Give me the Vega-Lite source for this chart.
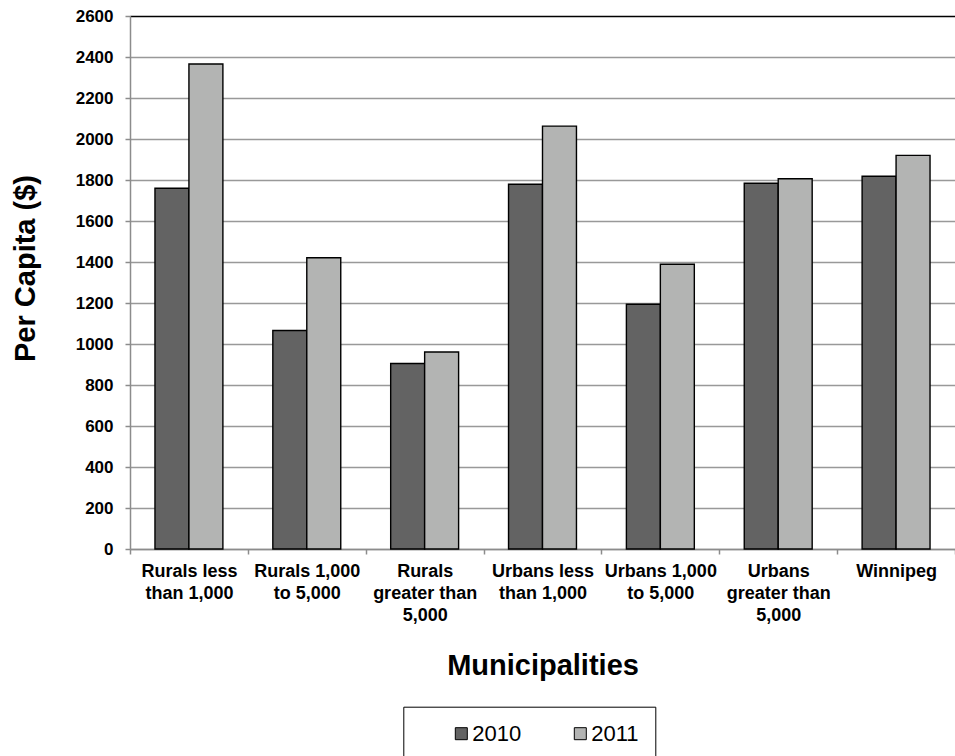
{
  "$schema": "https://vega.github.io/schema/vega-lite/v6.json",
  "autosize": {"type": "none"},
  "width": 825,
  "height": 533,
  "padding": {"left": 130, "top": 16, "right": 0, "bottom": 207},
  "background": "white",
  "config": {
    "view": {"stroke": null},
    "font": "Liberation Sans"
  },
  "data": {
    "values": [
      {"municipality": "Rurals less than 1,000", "year": "2010", "per_capita": 1760},
      {"municipality": "Rurals less than 1,000", "year": "2011", "per_capita": 2366},
      {"municipality": "Rurals 1,000 to 5,000", "year": "2010", "per_capita": 1066},
      {"municipality": "Rurals 1,000 to 5,000", "year": "2011", "per_capita": 1421},
      {"municipality": "Rurals greater than 5,000", "year": "2010", "per_capita": 905},
      {"municipality": "Rurals greater than 5,000", "year": "2011", "per_capita": 961},
      {"municipality": "Urbans less than 1,000", "year": "2010", "per_capita": 1779},
      {"municipality": "Urbans less than 1,000", "year": "2011", "per_capita": 2063},
      {"municipality": "Urbans 1,000 to 5,000", "year": "2010", "per_capita": 1194},
      {"municipality": "Urbans 1,000 to 5,000", "year": "2011", "per_capita": 1389},
      {"municipality": "Urbans greater than 5,000", "year": "2010", "per_capita": 1784},
      {"municipality": "Urbans greater than 5,000", "year": "2011", "per_capita": 1806},
      {"municipality": "Winnipeg", "year": "2010", "per_capita": 1818},
      {"municipality": "Winnipeg", "year": "2011", "per_capita": 1920}
    ]
  },
  "mark": {"type": "bar", "stroke": "black", "strokeWidth": 1.4},
  "encoding": {
    "x": {
      "field": "municipality",
      "type": "nominal",
      "sort": null,
      "scale": {"paddingInner": 0, "paddingOuter": 0},
      "axis": {
        "title": "Municipalities",
        "titleFont": "Liberation Sans",
        "titleFontSize": 29,
        "titleFontWeight": "bold",
        "titleColor": "black",
        "titlePadding": 27,
        "labelAngle": 0,
        "labelFont": "Liberation Sans",
        "labelFontSize": 18,
        "labelFontWeight": "bold",
        "labelColor": "black",
        "labelPadding": 8,
        "labelLineHeight": 22.3,
        "labelBaseline": "top",
        "labelExpr": "datum.label == 'Rurals less than 1,000' ? ['Rurals less', 'than 1,000'] : datum.label == 'Rurals 1,000 to 5,000' ? ['Rurals 1,000', 'to 5,000'] : datum.label == 'Rurals greater than 5,000' ? ['Rurals', 'greater than', '5,000'] : datum.label == 'Urbans less than 1,000' ? ['Urbans less', 'than 1,000'] : datum.label == 'Urbans 1,000 to 5,000' ? ['Urbans 1,000', 'to 5,000'] : datum.label == 'Urbans greater than 5,000' ? ['Urbans', 'greater than', '5,000'] : datum.label",
        "domainColor": "#8c8c8c",
        "domainWidth": 1.5,
        "tickColor": "#8c8c8c",
        "tickBand": "extent",
        "tickSize": 5,
        "tickWidth": 1.5,
        "grid": false
      }
    },
    "xOffset": {
      "field": "year",
      "type": "nominal",
      "scale": {"paddingInner": 0, "paddingOuter": 0.735}
    },
    "y": {
      "field": "per_capita",
      "type": "quantitative",
      "scale": {"domain": [0, 2600], "nice": false},
      "axis": {
        "title": "Per Capita ($)",
        "titleFont": "Liberation Sans",
        "titleFontSize": 29,
        "titleFontWeight": "bold",
        "titleColor": "black",
        "titlePadding": 35,
        "titleY": 252,
        "values": [0, 200, 400, 600, 800, 1000, 1200, 1400, 1600, 1800, 2000, 2200, 2400, 2600],
        "format": "d",
        "labelFont": "Liberation Sans",
        "labelFontSize": 17,
        "labelFontWeight": "bold",
        "labelColor": "black",
        "labelPadding": 12,
        "domainColor": "#8c8c8c",
        "domainWidth": 1.5,
        "tickColor": "#8c8c8c",
        "tickSize": 5,
        "tickWidth": 1.5,
        "grid": true,
        "gridColor": {"condition": {"test": "datum.value == 2600", "value": "black"}, "value": "#999999"},
        "gridWidth": 1.5
      }
    },
    "color": {
      "field": "year",
      "type": "nominal",
      "scale": {"domain": ["2010", "2011"], "range": ["#636363", "#b3b4b3"]},
      "legend": {
        "title": " ",
        "titleOrient": "left",
        "titleFontSize": 1,
        "titlePadding": 31,
        "orient": "none",
        "direction": "horizontal",
        "legendX": 273.3,
        "legendY": 690.7,
        "symbolType": "square",
        "symbolSize": 144,
        "symbolStrokeColor": "black",
        "symbolStrokeWidth": 1,
        "labelFont": "Liberation Sans",
        "labelFontSize": 22,
        "labelColor": "black",
        "labelOffset": 0,
        "labelExpr": "datum.label == '2011' ? '2011\u00a0\u00a0\u00a0\u00a0\u00a0' : datum.label",
        "columnPadding": 48,
        "padding": 16,
        "strokeColor": "black",
        "fillColor": "white",
        "offset": 0
      }
    }
  }
}
